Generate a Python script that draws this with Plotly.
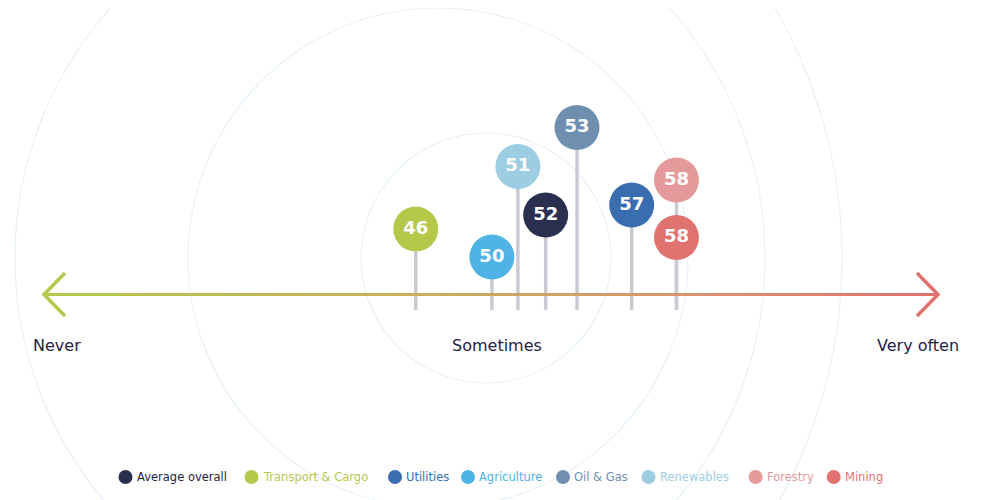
import plotly.graph_objects as go

# sector pins: label shown in the bubble, place on the never -> very often scale (0-100),
# and how high the stem rises above the arrow line
sectors = ['Average overall', 'Transport & Cargo', 'Utilities', 'Agriculture',
           'Oil & Gas', 'Renewables', 'Forestry', 'Mining']
scores = [52, 46, 57, 50, 53, 51, 58, 58]
scale_pos = [56.1, 41.6, 65.7, 50.1, 59.6, 53.0, 70.7, 70.7]
stem_height = [79.5, 65.5, 89.5, 37.5, 167, 128, 114.5, 57]
colors = ['#2b2f4f', '#b5c84a', '#3a6cb0', '#4fb3e6', '#6e8fb0', '#9ccde3', '#e49a9b', '#e0736f']

scale_labels = ['Never', 'Sometimes', 'Very often']
scale_values = [0, 50, 100]

navy = '#1f2242'
font_main = 'DejaVu Sans'
off = 8  # the page body adds an 8px margin, so shift the view to compensate

fig = go.Figure()

# stems
stem_x, stem_y = [], []
for x, h in zip(scale_pos, stem_height):
    stem_x += [x, x, None]
    stem_y += [-15.5, h, None]
fig.add_trace(go.Scatter(x=stem_x, y=stem_y, mode='lines',
                         line=dict(color='#cacad2', width=3.5),
                         hoverinfo='skip', showlegend=False))

# bubbles
fig.add_trace(go.Scatter(
    x=scale_pos, y=stem_height, mode='markers+text',
    marker=dict(size=45, color=colors, line=dict(width=0), opacity=1),
    text=[str(s) for s in scores], textposition='middle center',
    textfont=dict(family=font_main, size=18, color='white', weight='bold'),
    customdata=sectors, hovertemplate='%{customdata}: %{text}<extra></extra>',
    showlegend=False))

# gradient arrow line (pixel axes)
fig.add_trace(go.Scatter(
    x=[43, 939, 939, 43, 43], y=[293, 293, 296, 296, 293],
    xaxis='x2', yaxis='y2', mode='none', fill='toself',
    fillgradient=dict(type='horizontal',
                      colorscale=[[0, '#b3c94b'], [0.45, '#c9ad5e'],
                                  [0.72, '#d8946f'], [1, '#e0716f']]),
    hoverinfo='skip', showlegend=False))

# legend built by hand
legend_x = [125.5, 251.5, 395, 468, 563, 648.5, 755.6, 833.7]
fig.add_trace(go.Scatter(
    x=legend_x, y=[477] * len(legend_x), xaxis='x2', yaxis='y2', mode='markers',
    marker=dict(size=14, color=colors), hoverinfo='skip', showlegend=False))

annotations = []
for lx, name, c in zip(legend_x, sectors, colors):
    annotations.append(dict(
        x=lx + 9, y=477, xref='x2', yref='y2', text=name, showarrow=False,
        xanchor='left', yanchor='middle',
        font=dict(family=font_main, size=11.5, color=navy if c == colors[0] else c)))

# scale labels under the arrow
label_shift = [14, 6, -21]
for lab, v, sh in zip(scale_labels, scale_values, label_shift):
    annotations.append(dict(
        x=v, y=-50.5, text=lab, showarrow=False, xshift=sh,
        xanchor='center', yanchor='middle',
        font=dict(family=font_main, size=16, color=navy)))

# background rings and arrow heads
shapes = []
for k in range(1, 5):
    cx, r = 486 - 48 * (k - 1), 125 * k
    shapes.append(dict(type='circle', xref='x2', yref='y2',
                       x0=cx - r, x1=cx + r, y0=258 - r, y1=258 + r,
                       line=dict(color='#e4f1fa', width=1.1), layer='below'))
shapes.append(dict(type='path', xref='x2', yref='y2', path='M 65 273 L 44 294.5 L 65 316',
                   line=dict(color='#b3c94b', width=3.5)))
shapes.append(dict(type='path', xref='x2', yref='y2', path='M 917 273 L 938 294.5 L 917 316',
                   line=dict(color='#e0716f', width=3.5)))

fig.update_layout(
    width=1000, height=500,
    margin=dict(l=0, r=0, t=0, b=0),
    paper_bgcolor='white', plot_bgcolor='white',
    xaxis=dict(range=[(off - 43) / 8.96, (1000 + off - 43) / 8.96], visible=False, fixedrange=True),
    yaxis=dict(range=[-205.5 - off, 294.5 - off], visible=False, fixedrange=True),
    xaxis2=dict(overlaying='x', range=[off, 1000 + off], visible=False, fixedrange=True),
    yaxis2=dict(overlaying='y', range=[500 + off, off], visible=False, fixedrange=True),
    shapes=shapes, annotations=annotations,
    showlegend=False,
)

fig.write_html("out.html")
